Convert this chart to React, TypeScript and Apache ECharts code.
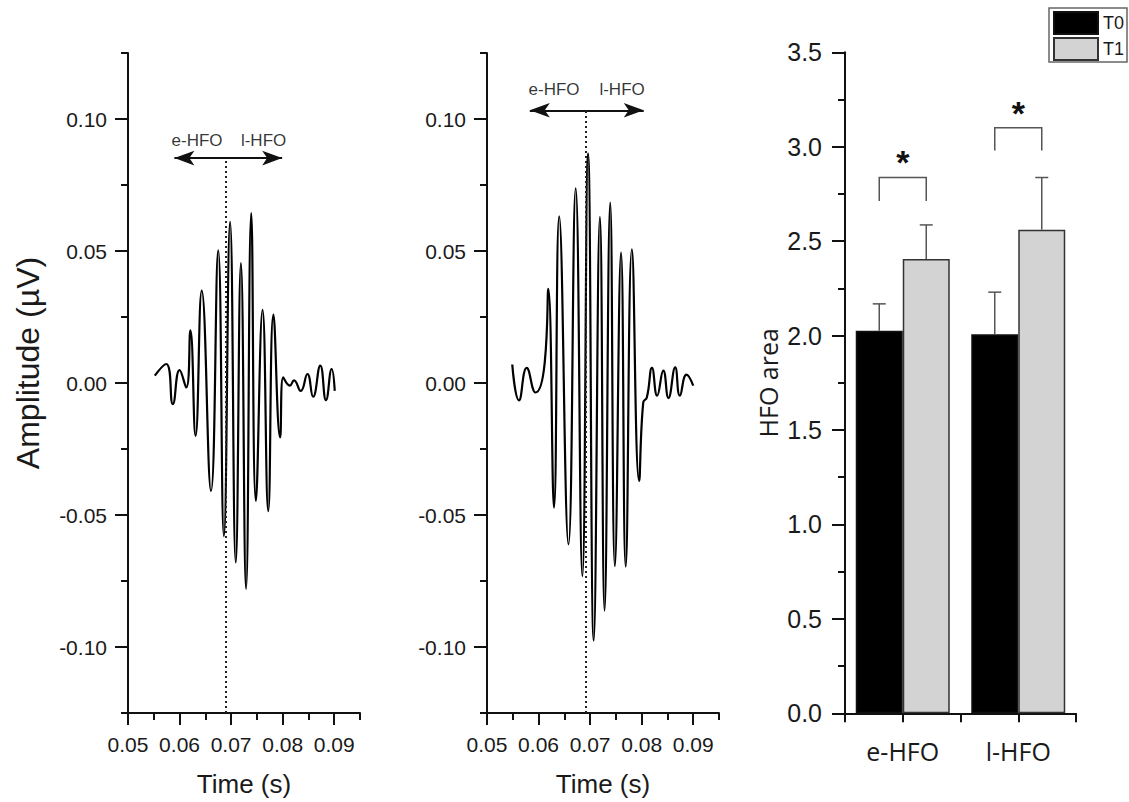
import React, { useEffect, useRef } from 'react';
import * as echarts from 'echarts';

// ---------- data ----------
// Left panel waveform: [time (s), amplitude (µV)] read at extrema
const WAVE_1: number[][] = [
  [0.0552, 0.0028], [0.0574, 0.0072], [0.0587, -0.008], [0.06, 0.0049], [0.0613, -0.0017],
  [0.0621, 0.0199], [0.0631, -0.02], [0.0643, 0.035], [0.0661, -0.0409], [0.0675, 0.0502],
  [0.0686, -0.058], [0.0698, 0.061], [0.0709, -0.068], [0.0719, 0.0454], [0.0729, -0.078],
  [0.0739, 0.0644], [0.0748, -0.0447], [0.0761, 0.0277], [0.0772, -0.0485], [0.0782, 0.0259],
  [0.0795, -0.0206], [0.0801, 0.0021], [0.0814, -0.001], [0.0822, 0.001], [0.0835, -0.003],
  [0.0848, 0.0034], [0.0859, -0.0052], [0.0873, 0.0066], [0.0884, -0.0065], [0.0895, 0.0053],
  [0.0901, -0.003],
];
// Middle panel waveform
const WAVE_2: number[][] = [
  [0.0549, 0.007], [0.0562, -0.0066], [0.0577, 0.0057], [0.0594, -0.0036], [0.0612, 0.0078],
  [0.0619, 0.0357], [0.063, -0.0472], [0.064, 0.0631], [0.0658, -0.0611], [0.0672, 0.0737],
  [0.0685, -0.0732], [0.0696, 0.0869], [0.0707, -0.0976], [0.0719, 0.0629], [0.0728, -0.0862],
  [0.0739, 0.0683], [0.0748, -0.0694], [0.076, 0.0494], [0.0769, -0.0696], [0.0781, 0.0506],
  [0.0795, -0.0371], [0.0803, -0.0074], [0.081, -0.0055], [0.082, 0.0057], [0.083, -0.0048],
  [0.0842, 0.0047], [0.0852, -0.0057], [0.0865, 0.0059], [0.0874, -0.0048], [0.0887, 0.0032],
  [0.09, -0.001],
];

// annotation: split time, arrow extent and level, label anchors
const SPLIT_TIME = [0.069, 0.0692];
const ARROW_FROM = [0.059, 0.0583];
const ARROW_TO = [0.0799, 0.0804];
const ARROW_LEVEL = [0.0852, 0.1033];
const PHASE_LABELS = ['e-HFO', 'l-HFO'];
const PHASE_LABEL_TIME_1 = [0.0634, 0.0763];
const PHASE_LABEL_TIME_2 = [0.063, 0.0762];
const PHASE_LABEL_LEVEL = [0.0917, 0.1113];

// axis ticks
const TIME_MIN = 0.05;
const TIME_MAX = 0.095;
const TIME_TICKS = [0.05, 0.06, 0.07, 0.08, 0.09];
const TIME_MINOR_TICKS = [0.055, 0.065, 0.075, 0.085, 0.095];
const AMP_MIN = -0.125;
const AMP_MAX = 0.125;
const AMP_TICKS = [-0.1, -0.05, 0, 0.05, 0.1];
const AMP_MINOR_TICKS = [-0.125, -0.075, -0.025, 0.025, 0.075, 0.125];

// bar chart
const CATEGORIES = ['e-HFO', 'l-HFO'];
const GROUPS = ['T0', 'T1'];
const T0_MEAN = [2.026, 2.007];
const T0_ERR_TOP = [2.168, 2.23];
const T1_MEAN = [2.405, 2.56];
const T1_ERR_TOP = [2.586, 2.837];
const SIG_TOP = [2.837, 3.1];
const SIG_LEG_END = [2.713, 2.98];
const SIG_STAR = [2.92, 3.18];
const AREA_MAX = 3.5;
const AREA_INTERVAL = 0.5;

// ---------- styles ----------
const FONT = '"Liberation Sans", Arial, sans-serif';
const FONT_CAT = '"Open Sans", "Liberation Sans", Arial, sans-serif';
const INK = '#111';
const TEXT = '#1a1a1a';
const BAR_W = 47;
const CAP_W = 13;

const App: React.FC = () => {
  const ref = useRef<HTMLDivElement>(null);

  useEffect(() => {
    if (!ref.current) return;
    const chart = echarts.init(ref.current, undefined, { renderer: 'svg' });

    const axisLine = { show: true, onZero: false, lineStyle: { color: INK, width: 2 } };
    const tickLine = { color: INK, width: 2 };
    const grids = [
      { left: 128, top: 53, width: 232, height: 660 },
      { left: 487, top: 53, width: 232, height: 660 },
      { left: 845, top: 52.3, width: 231, height: 661 },
    ];

    const timeAxes = (gridIndex: number) => [
      {
        type: 'value', gridIndex, position: 'bottom', min: TIME_MIN, max: TIME_MAX,
        axisLine, splitLine: { show: false },
        axisTick: { show: true, length: 12, customValues: TIME_TICKS, lineStyle: tickLine },
        axisLabel: {
          show: true, customValues: TIME_TICKS, formatter: (v: number) => v.toFixed(2),
          fontSize: 21, margin: 21, color: TEXT, fontFamily: FONT,
        },
        name: 'Time (s)', nameLocation: 'middle', nameGap: 58,
        nameTextStyle: { fontSize: 26, color: TEXT, fontFamily: FONT },
      },
      {
        type: 'value', gridIndex, position: 'bottom', min: TIME_MIN, max: TIME_MAX,
        axisLine: { show: false, onZero: false }, splitLine: { show: false },
        axisTick: { show: true, length: 7, customValues: TIME_MINOR_TICKS, lineStyle: tickLine },
        axisLabel: { show: false },
      },
    ];

    const ampAxes = (gridIndex: number, withName: boolean) => [
      {
        type: 'value', gridIndex, position: 'left', min: AMP_MIN, max: AMP_MAX,
        axisLine, splitLine: { show: false },
        axisTick: { show: true, length: 13, customValues: AMP_TICKS, lineStyle: tickLine },
        axisLabel: {
          show: true, customValues: AMP_TICKS, formatter: (v: number) => v.toFixed(2),
          fontSize: 21, margin: 21, color: TEXT, fontFamily: FONT,
        },
        name: withName ? 'Amplitude (µV)' : '', nameLocation: 'middle', nameGap: 84,
        nameTextStyle: { fontSize: 32, color: TEXT, fontFamily: FONT, padding: [0, 0, 0, 40] },
      },
      {
        type: 'value', gridIndex, position: 'left', min: AMP_MIN, max: AMP_MAX,
        axisLine: { show: false, onZero: false }, splitLine: { show: false },
        axisTick: { show: true, length: 7, customValues: AMP_MINOR_TICKS, lineStyle: tickLine },
        axisLabel: { show: false },
      },
    ];

    const waveSeries = (idx: number, wave: number[][], labelTimes: number[]) => {
      const xi = idx * 2;
      const yi = idx * 2;
      return [
        {
          type: 'line', name: 'wave' + idx, xAxisIndex: xi, yAxisIndex: yi, data: wave,
          smooth: 0.5, showSymbol: false, symbol: 'none', silent: true,
          lineStyle: { color: '#000', width: 2.2 }, z: 3,
          markLine: {
            silent: true, symbol: 'none', label: { show: false },
            lineStyle: { color: '#111', width: 2, type: 'solid' },
            emphasis: { disabled: true },
            data: [
              [
                { coord: [ARROW_FROM[idx], ARROW_LEVEL[idx]], symbol: 'arrow', symbolSize: [11, 20] },
                { coord: [ARROW_TO[idx], ARROW_LEVEL[idx]], symbol: 'arrow', symbolSize: [11, 20] },
              ],
              [
                { coord: [SPLIT_TIME[idx], AMP_MIN], lineStyle: { type: [2, 3], width: 2, color: '#222' } },
                { coord: [SPLIT_TIME[idx], ARROW_LEVEL[idx]] },
              ],
            ],
          },
        },
        {
          type: 'scatter', name: 'labels' + idx, xAxisIndex: xi, yAxisIndex: yi, symbolSize: 0, silent: true,
          data: labelTimes.map((t, i) => ({ value: [t, PHASE_LABEL_LEVEL[idx]], name: PHASE_LABELS[i] })),
          label: { show: true, position: 'inside', formatter: '{b}', fontSize: 17, color: '#000', fontFamily: FONT },
        },
      ];
    };

    const errData = [
      ...T0_MEAN.map((m, i) => [i, m, T0_ERR_TOP[i], 0]),
      ...T1_MEAN.map((m, i) => [i, m, T1_ERR_TOP[i], 1]),
    ];
    const sigData = CATEGORIES.map((_, i) => [i, SIG_TOP[i], SIG_LEG_END[i], SIG_STAR[i]]);

    chart.setOption({
      animation: false,
      backgroundColor: '#fff',
      grid: grids,
      legend: {
        data: GROUPS, orient: 'vertical', left: 1049, top: 8,
        itemWidth: 44, itemHeight: 22, itemGap: 2, padding: [3, 3, 1, 4],
        borderColor: '#666', borderWidth: 1.5, backgroundColor: '#fff',
        icon: 'rect', selectedMode: false,
        textStyle: { fontSize: 18, color: TEXT, fontFamily: FONT },
      },
      xAxis: [
        ...timeAxes(0),
        ...timeAxes(1),
        {
          type: 'category', gridIndex: 2, position: 'bottom', data: CATEGORIES, boundaryGap: true,
          axisLine, axisTick: { show: true, length: 9, lineStyle: tickLine },
          axisLabel: { fontSize: 25, margin: 25, color: TEXT, fontFamily: FONT_CAT },
        },
        {
          type: 'category', gridIndex: 2, position: 'bottom', data: CATEGORIES, boundaryGap: true,
          axisLine: { show: false, onZero: false },
          axisTick: { show: true, alignWithLabel: true, length: 9, lineStyle: tickLine },
          axisLabel: { show: false },
        },
      ],
      yAxis: [
        ...ampAxes(0, true),
        ...ampAxes(1, false),
        {
          type: 'value', gridIndex: 2, position: 'left', min: 0, max: AREA_MAX, interval: AREA_INTERVAL,
          axisLine, splitLine: { show: false },
          axisTick: { show: true, length: 13, lineStyle: tickLine },
          minorTick: { show: true, splitNumber: 2, length: 7, lineStyle: tickLine },
          axisLabel: { formatter: (v: number) => v.toFixed(1), fontSize: 25, margin: 23, color: TEXT, fontFamily: FONT },
          name: 'HFO area', nameLocation: 'middle', nameGap: 65,
          nameTextStyle: { fontSize: 25, color: TEXT, fontFamily: FONT_CAT },
        },
      ],
      series: [
        ...waveSeries(0, WAVE_1, PHASE_LABEL_TIME_1),
        ...waveSeries(1, WAVE_2, PHASE_LABEL_TIME_2),
        {
          type: 'bar', name: 'T0', xAxisIndex: 4, yAxisIndex: 4, data: T0_MEAN,
          barWidth: BAR_W, barGap: '0%', silent: true,
          itemStyle: { color: '#000', borderColor: '#111', borderWidth: 1.5 },
        },
        {
          type: 'bar', name: 'T1', xAxisIndex: 4, yAxisIndex: 4, data: T1_MEAN,
          barWidth: BAR_W, barGap: '0%', silent: true,
          itemStyle: { color: '#d3d3d3', borderColor: '#333', borderWidth: 1.5 },
        },
        {
          type: 'custom', name: 'err', xAxisIndex: 4, yAxisIndex: 4, data: errData, silent: true, z: 4,
          renderItem: (params: any, api: any) => {
            const cat = api.value(0);
            const base = api.coord([cat, api.value(1)]);
            const top = api.coord([cat, api.value(2)]);
            const x = base[0] + (api.value(3) === 0 ? -BAR_W / 2 : BAR_W / 2);
            const style = { stroke: '#555', lineWidth: 1.5 };
            return {
              type: 'group',
              children: [
                { type: 'line', shape: { x1: x, y1: base[1], x2: x, y2: top[1] }, style },
                { type: 'line', shape: { x1: x - CAP_W / 2, y1: top[1], x2: x + CAP_W / 2, y2: top[1] }, style },
              ],
            };
          },
        },
        {
          type: 'custom', name: 'sig', xAxisIndex: 4, yAxisIndex: 4, data: sigData, silent: true, z: 4,
          renderItem: (params: any, api: any) => {
            const cat = api.value(0);
            const top = api.coord([cat, api.value(1)]);
            const leg = api.coord([cat, api.value(2)]);
            const star = api.coord([cat, api.value(3)]);
            const xl = top[0] - BAR_W / 2;
            const xr = top[0] + BAR_W / 2;
            return {
              type: 'group',
              children: [
                {
                  type: 'polyline',
                  shape: { points: [[xl, leg[1]], [xl, top[1]], [xr, top[1]], [xr, leg[1]]] },
                  style: { stroke: '#555', lineWidth: 1.5, fill: 'none' },
                },
                {
                  type: 'text', x: star[0], y: star[1],
                  style: { text: '*', fontSize: 34, fontWeight: 'bold', fill: '#111', align: 'center', verticalAlign: 'middle', fontFamily: FONT },
                },
              ],
            };
          },
        },
      ],
    });

    return () => chart.dispose();
  }, []);

  return <div ref={ref} style={{ position: 'absolute', left: 0, top: 0, width: 1129, height: 802 }} />;
};

export default App;
